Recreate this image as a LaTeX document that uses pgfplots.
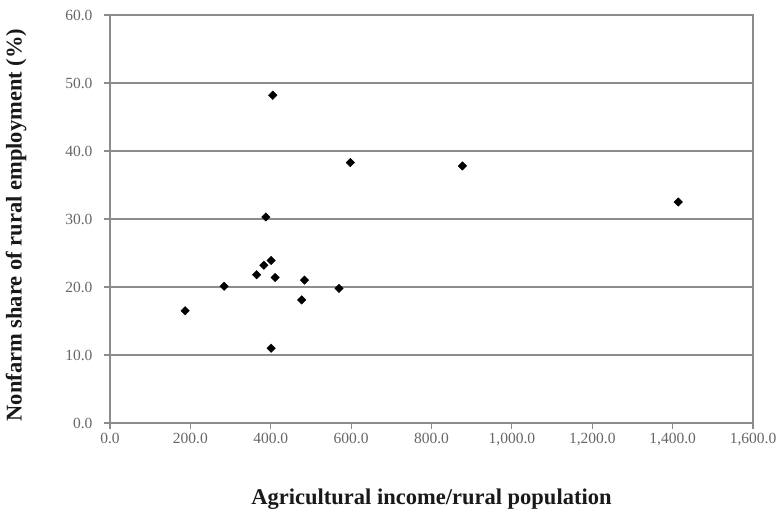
\documentclass[border=0pt]{standalone}
\usepackage{fontspec}
\setmainfont{Liberation Serif}
\usepackage{pgfplots}
\pgfplotsset{compat=1.18}
\begin{document}
\begin{tikzpicture}
\begin{axis}[name=ax,
  scale only axis, width=643pt, height=408pt,
  xmin=0, xmax=1600, ymin=0, ymax=60,
  xtick={0,200,...,1600}, ytick={0,10,...,60},
  tick align=outside, major tick length=6pt,
  xtick pos=bottom, ytick pos=left,
  axis line style={draw=black!45, line width=1.2pt},
  every tick/.style={draw=black!45, line width=1.2pt},
  ymajorgrids, major grid style={draw=black!45, line width=1.6pt},
  /pgf/number format/assume math mode=true,
  /pgf/number format/.cd, fixed, fixed zerofill, precision=1, 1000 sep={,},
  /pgfplots/.cd,
  ticklabel style={font=\fontsize{15.5}{17}\selectfont, text=black!60},
  xticklabel style={yshift=-1pt},
  yticklabel style={xshift=-8pt},
  label style={font=\fontsize{22.5}{26}\selectfont\bfseries, text=black!90},
  xlabel={Agricultural income/rural population},
  ylabel={Nonfarm share of rural employment (\%)},
  xlabel style={at={(axis description cs:0.5,-0.186)}, anchor=center},
  ylabel style={at={(axis description cs:-0.146,0.485)}, anchor=center},
]
\addplot[only marks, mark=square*, mark size=3pt, black, mark options={rotate=45}] coordinates {
(405,48.2) (598,38.3) (877,37.8) (1414,32.5) (388,30.3) (401,23.9)
(383,23.2) (365,21.8) (411,21.4) (484,21.0) (284,20.1) (570,19.8)
(477,18.1) (187,16.5) (401,11.0)
};
\end{axis}
\pgfresetboundingbox
\path ([xshift=-110pt,yshift=-88pt]ax.south west) rectangle ([xshift=29pt,yshift=15pt]ax.north east);
\end{tikzpicture}
\end{document}
